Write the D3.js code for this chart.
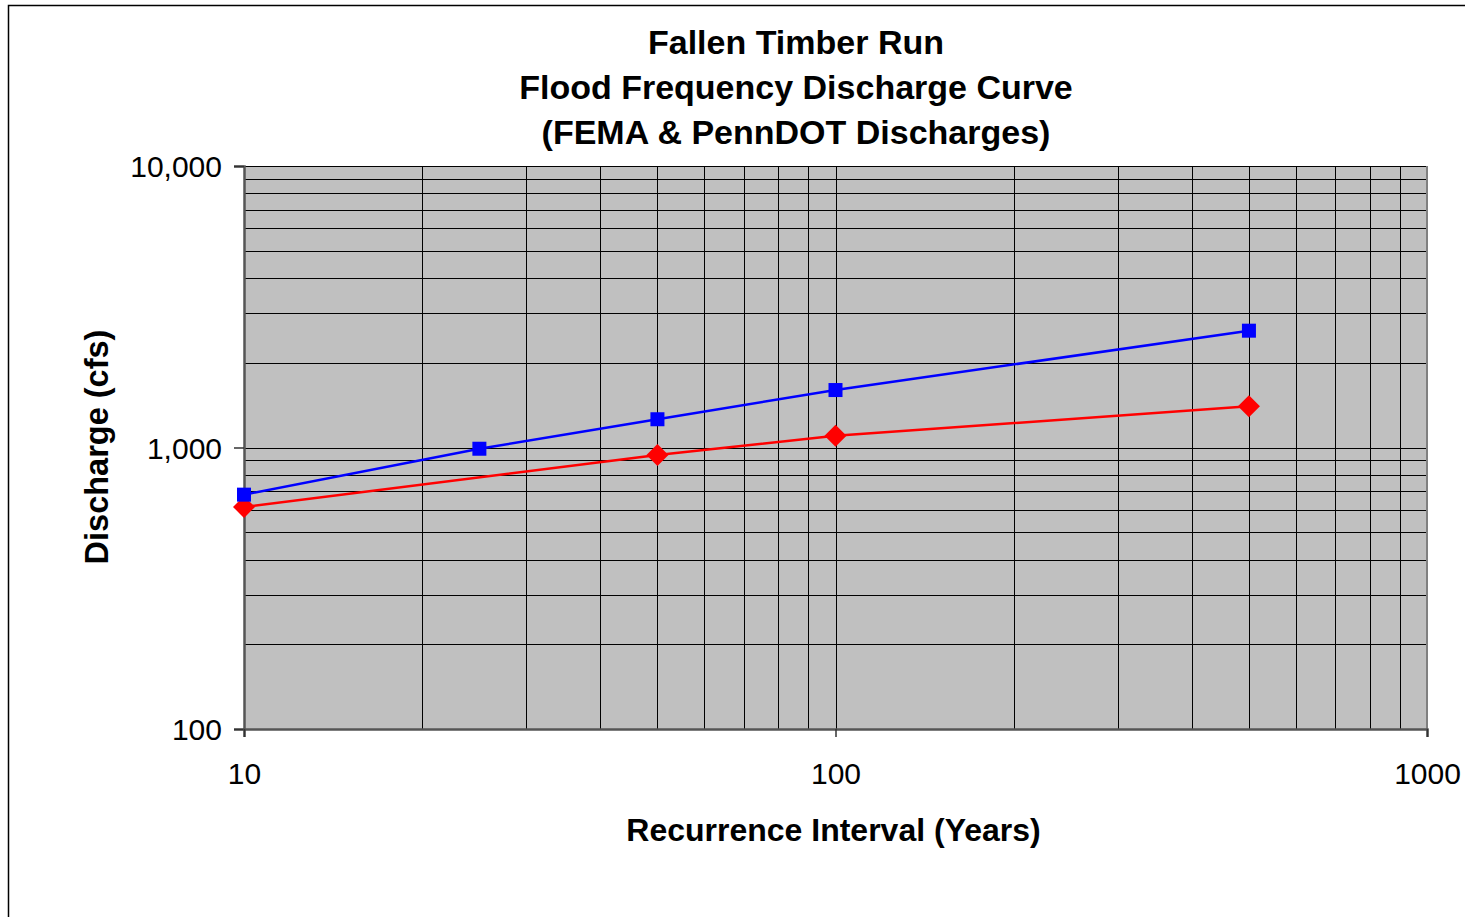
<!DOCTYPE html>
<html>
<head>
<meta charset="utf-8">
<script src="https://cdn.jsdelivr.net/npm/d3@7"></script>
<style>
  body { margin: 0; background: #fff; }
  text { font-family: "Liberation Sans", Arial, sans-serif; fill: #000; }
</style>
</head>
<body>
<div id="chart"></div>
<script>
const years = [10, 25, 50, 100, 500];
const femaDischarge = [680, 990, 1260, 1600, 2600];      // blue squares
const penndotYears = [10, 50, 100, 500];
const penndotDischarge = [615, 940, 1100, 1400];         // red diamonds
const xTicks = [10, 100, 1000];
const yTicks = [100, 1000, 10000];
const titleLines = ['Fallen Timber Run', 'Flood Frequency Discharge Curve', '(FEMA & PennDOT Discharges)'];

const W = 1465, H = 917;
const margin = { top: 166, right: 38, bottom: 188, left: 244 };
const width = W - margin.left - margin.right,
      height = H - margin.top - margin.bottom;

const svg = d3.select('#chart').append('svg')
  .attr('width', W)
  .attr('height', H);

// outer chart border
svg.append('rect')
  .attr('x', 8.5).attr('y', 5.5)
  .attr('width', W).attr('height', H)
  .attr('fill', 'none')
  .attr('stroke', '#000')
  .attr('stroke-width', 1.5);

const x = d3.scaleLog().domain([10, 1000]).range([0, width]);
const y = d3.scaleLog().domain([100, 10000]).range([height, 0]);

const g = svg.append('g')
  .attr('transform', 'translate(' + margin.left + ',' + margin.top + ')');

g.append('rect')
  .attr('width', width).attr('height', height)
  .attr('fill', '#c0c0c0');

// gridlines (every 1..9 per decade)
const xGrid = [], yGrid = [];
[10, 100].forEach(b => d3.range(1, 10).forEach(k => xGrid.push(b * k)));
[100, 1000].forEach(b => d3.range(1, 10).forEach(k => yGrid.push(b * k)));
yGrid.push(10000);

g.selectAll('line.xg').data(xGrid.slice(1)).enter().append('line')
  .attr('x1', d => Math.round(x(d)) + 0.5).attr('x2', d => Math.round(x(d)) + 0.5)
  .attr('y1', 0).attr('y2', height)
  .attr('stroke', '#000').attr('stroke-width', 1);

g.selectAll('line.yg').data(yGrid.slice(1)).enter().append('line')
  .attr('x1', 0).attr('x2', width)
  .attr('y1', d => Math.round(y(d)) + 0.5).attr('y2', d => Math.round(y(d)) + 0.5)
  .attr('stroke', '#000').attr('stroke-width', 1);

// right border of plot area
g.append('line')
  .attr('x1', width).attr('x2', width).attr('y1', 0).attr('y2', height)
  .attr('stroke', '#808080').attr('stroke-width', 2);

// axes
const yAxis = d3.axisLeft(y).tickValues(yTicks).tickFormat(d3.format(',')).tickSize(10).tickPadding(12);
const xAxis = d3.axisBottom(x).tickValues(xTicks).tickFormat(d3.format('d')).tickSize(8).tickPadding(26);

const gy = g.append('g').call(yAxis);
const gx = g.append('g').attr('transform', 'translate(0,' + height + ')').call(xAxis);

[gy, gx].forEach(ax => {
  ax.select('.domain').attr('stroke', '#555').attr('stroke-width', 2.5);
  ax.selectAll('.tick line').attr('stroke', '#333').attr('stroke-width', 1.5);
  ax.selectAll('.tick text').style('font-size', '30px').attr('fill', '#000');
});
gy.selectAll('.tick text').attr('dy', '0.35em');

// series lines
const line = d3.line().x(d => x(d[0])).y(d => y(d[1]));
const fema = years.map((d, i) => [d, femaDischarge[i]]);
const penndot = penndotYears.map((d, i) => [d, penndotDischarge[i]]);

g.append('path').datum(penndot)
  .attr('d', line).attr('fill', 'none')
  .attr('stroke', '#ff0000').attr('stroke-width', 2.5);
g.append('path').datum(fema)
  .attr('d', line).attr('fill', 'none')
  .attr('stroke', '#0000ff').attr('stroke-width', 2.5);

g.selectAll('path.diamond').data(penndot).enter().append('path')
  .attr('transform', d => 'translate(' + x(d[0]) + ',' + y(d[1]) + ')')
  .attr('d', 'M0,-11L11,0L0,11L-11,0Z')
  .attr('fill', '#ff0000');

g.selectAll('rect.square').data(fema).enter().append('rect')
  .attr('x', d => x(d[0]) - 7).attr('y', d => y(d[1]) - 7)
  .attr('width', 14).attr('height', 14)
  .attr('fill', '#0000ff');

// titles
svg.append('g').selectAll('text').data(titleLines).enter().append('text')
  .attr('x', 796)
  .attr('y', (d, i) => 54 + i * 45)
  .attr('text-anchor', 'middle')
  .style('font-size', '34px')
  .style('font-weight', 'bold')
  .text(d => d);

svg.append('text')
  .attr('x', margin.left + width / 2 - 2)
  .attr('y', 841)
  .attr('text-anchor', 'middle')
  .style('font-size', '32px')
  .style('font-weight', 'bold')
  .text('Recurrence Interval (Years)');

svg.append('text')
  .attr('transform', 'translate(108,447) rotate(-90)')
  .attr('text-anchor', 'middle')
  .style('font-size', '32.5px')
  .style('font-weight', 'bold')
  .text('Discharge (cfs)');
</script>
</body>
</html>
